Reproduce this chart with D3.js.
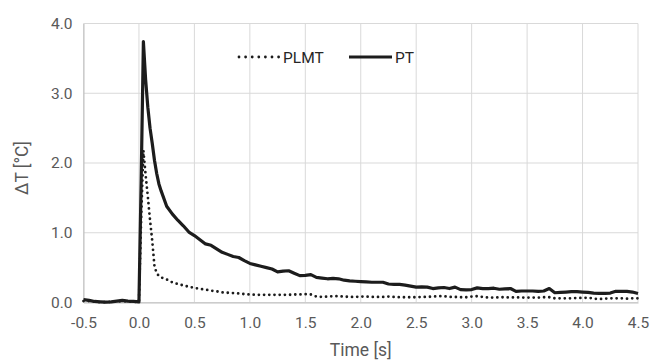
<!DOCTYPE html>
<html>
<head>
<meta charset="utf-8">
<script src="https://cdn.jsdelivr.net/npm/d3@7"></script>
<style>
  html, body { margin: 0; padding: 0; background: #fff; }
  svg { display: block; font-family: Roboto, "Noto Sans", sans-serif; }
</style>
</head>
<body>
<svg id="chart"></svg>
<script>
// Sample times (s)
var times = [-0.50, -0.45, -0.40, -0.35, -0.30, -0.25, -0.20, -0.15, -0.10, -0.05,
  0.00, 0.02, 0.04, 0.06, 0.08, 0.10, 0.12, 0.14, 0.16, 0.18, 0.20,
  0.25, 0.30, 0.35, 0.40, 0.45, 0.50, 0.55, 0.60, 0.65, 0.70, 0.75, 0.80, 0.85, 0.90, 0.95,
  1.00, 1.05, 1.10, 1.15, 1.20, 1.25, 1.30, 1.35, 1.40, 1.45,
  1.50, 1.55, 1.60, 1.65, 1.70, 1.75, 1.80, 1.85, 1.90, 1.95,
  2.00, 2.05, 2.10, 2.15, 2.20, 2.25, 2.30, 2.35, 2.40, 2.45,
  2.50, 2.55, 2.60, 2.65, 2.70, 2.75, 2.80, 2.85, 2.90, 2.95,
  3.00, 3.05, 3.10, 3.15, 3.20, 3.25, 3.30, 3.35, 3.40, 3.45,
  3.50, 3.55, 3.60, 3.65, 3.70, 3.75, 3.80, 3.85, 3.90, 3.95,
  4.00, 4.05, 4.10, 4.15, 4.20, 4.25, 4.30, 4.35, 4.40, 4.45, 4.50];

// PT (solid)
var ptValues = [0.04, 0.03, 0.015, 0.01, 0.005, 0.01, 0.02, 0.03, 0.02, 0.015,
  0.01, 1.75, 3.74, 3.20, 2.80, 2.50, 2.28, 2.04, 1.85, 1.70, 1.60,
  1.38, 1.27, 1.18, 1.10, 1.01, 0.96, 0.90, 0.84, 0.82, 0.77, 0.72, 0.69, 0.66, 0.645, 0.60,
  0.56, 0.54, 0.52, 0.50, 0.48, 0.44, 0.45, 0.455, 0.42, 0.385,
  0.39, 0.40, 0.36, 0.35, 0.34, 0.345, 0.34, 0.32, 0.31, 0.305,
  0.30, 0.295, 0.29, 0.29, 0.29, 0.265, 0.26, 0.26, 0.25, 0.235,
  0.22, 0.225, 0.22, 0.20, 0.21, 0.215, 0.20, 0.22, 0.185, 0.18,
  0.185, 0.21, 0.20, 0.20, 0.205, 0.19, 0.195, 0.20, 0.16, 0.165,
  0.165, 0.165, 0.16, 0.165, 0.20, 0.14, 0.145, 0.15, 0.155, 0.155,
  0.15, 0.145, 0.135, 0.13, 0.13, 0.135, 0.16, 0.16, 0.16, 0.15, 0.13];

// PLMT (dotted)
var plmtValues = [0.02, 0.02, 0.01, 0.005, 0.005, 0.01, 0.015, 0.02, 0.015, 0.01,
  0.01, 1.20, 2.18, 1.83, 1.52, 1.18, 0.88, 0.52, 0.42, 0.38, 0.36,
  0.33, 0.29, 0.265, 0.245, 0.225, 0.21, 0.195, 0.185, 0.17, 0.16, 0.145, 0.14, 0.135, 0.13, 0.12,
  0.115, 0.11, 0.11, 0.11, 0.11, 0.11, 0.11, 0.11, 0.115, 0.115,
  0.12, 0.115, 0.085, 0.08, 0.085, 0.09, 0.09, 0.085, 0.08, 0.08,
  0.085, 0.085, 0.08, 0.08, 0.08, 0.085, 0.08, 0.075, 0.075, 0.075,
  0.075, 0.08, 0.08, 0.085, 0.09, 0.09, 0.08, 0.08, 0.075, 0.075,
  0.085, 0.09, 0.08, 0.07, 0.07, 0.075, 0.075, 0.07, 0.075, 0.07,
  0.07, 0.07, 0.07, 0.075, 0.075, 0.06, 0.06, 0.06, 0.06, 0.065,
  0.065, 0.07, 0.055, 0.05, 0.055, 0.06, 0.06, 0.06, 0.055, 0.06, 0.06];

var xTicks = [-0.5, 0.0, 0.5, 1.0, 1.5, 2.0, 2.5, 3.0, 3.5, 4.0, 4.5];
var yTicks = [0, 1, 2, 3, 4];

var series = [
  { name: "PLMT", values: plmtValues, dash: "0 5.2", width: 2.8 },
  { name: "PT",   values: ptValues,   dash: null,    width: 3.2 }
];

var totalW = 654, totalH = 363;
var margin = { top: 23.5, right: 16, bottom: 60.5, left: 83.5 };
var width  = totalW - margin.left - margin.right;
var height = totalH - margin.top - margin.bottom;

var textColor = "#595959";
var gridColor = "#d9d9d9";
var lineColor = "#1c1c1c";

var svg = d3.select("#chart")
    .attr("width", totalW)
    .attr("height", totalH)
    .append("g")
    .attr("transform", "translate(" + margin.left + "," + margin.top + ")");

var x = d3.scaleLinear().domain([-0.5, 4.5]).range([0, width]);
var y = d3.scaleLinear().domain([0, 4]).range([height, 0]);

// Gridlines
svg.append("g").selectAll("line")
    .data(yTicks)
    .enter().append("line")
    .attr("x1", 0).attr("x2", width)
    .attr("y1", d => y(d)).attr("y2", d => y(d))
    .style("stroke", gridColor).style("stroke-width", 1);

svg.append("g").selectAll("line")
    .data(xTicks)
    .enter().append("line")
    .attr("x1", d => x(d)).attr("x2", d => x(d))
    .attr("y1", 0).attr("y2", height)
    .style("stroke", gridColor).style("stroke-width", 1);

// Axes (no tick marks, Excel-like)
var xAxisG = svg.append("g")
    .attr("transform", "translate(0," + height + ")")
    .call(d3.axisBottom(x).tickValues(xTicks).tickSize(0).tickPadding(14)
        .tickFormat(d => d.toFixed(1)));
xAxisG.select(".domain").style("stroke", "#bfbfbf");
xAxisG.selectAll("text").style("fill", textColor).style("font-size", "15.5px")
    .style("font-family", "Roboto, sans-serif");

var yAxisG = svg.append("g")
    .call(d3.axisLeft(y).tickValues(yTicks).tickSize(0).tickPadding(11)
        .tickFormat(d => d.toFixed(1)));
yAxisG.select(".domain").style("stroke", "#bfbfbf");
yAxisG.selectAll("text").style("fill", textColor).style("font-size", "15.5px")
    .style("font-family", "Roboto, sans-serif");

// Axis titles
svg.append("text")
    .attr("x", width / 2)
    .attr("y", height + 53)
    .attr("text-anchor", "middle")
    .style("fill", textColor)
    .style("font-size", "17.5px")
    .text("Time [s]");

svg.append("text")
    .attr("transform", "rotate(-90)")
    .attr("x", -height / 2 - 5)
    .attr("y", -margin.left + 28)
    .attr("text-anchor", "middle")
    .style("fill", textColor)
    .style("font-size", "17.5px")
    .text("ΔT [°C]");

// Lines
var line = d3.line()
    .x((d, i) => x(times[i]))
    .y(d => y(d));

svg.selectAll(".series")
    .data(series)
    .enter().append("path")
    .attr("class", "series")
    .attr("d", d => line(d.values))
    .style("fill", "none")
    .style("stroke", lineColor)
    .style("stroke-width", d => d.width)
    .style("stroke-linejoin", "round")
    .style("stroke-linecap", d => d.dash ? "round" : "butt")
    .style("stroke-dasharray", d => d.dash);

// Legend
var legendX = [237 - margin.left, 349 - margin.left];
var legendY = 57 - margin.top;
var legend = svg.selectAll(".legend")
    .data(series)
    .enter().append("g")
    .attr("class", "legend")
    .attr("transform", (d, i) => "translate(" + legendX[i] + "," + legendY + ")");

legend.append("line")
    .attr("x1", d => d.dash ? 2 : 0).attr("x2", 43)
    .attr("y1", 0).attr("y2", 0)
    .style("stroke", lineColor)
    .style("stroke-width", d => d.width)
    .style("stroke-linecap", d => d.dash ? "round" : "butt")
    .style("stroke-dasharray", d => d.dash ? "0 6.6" : null);

legend.append("text")
    .attr("x", 46)
    .attr("y", 5.5)
    .style("fill", "#262626")
    .style("font-size", "15.5px")
    .text(d => d.name);
</script>
</body>
</html>
